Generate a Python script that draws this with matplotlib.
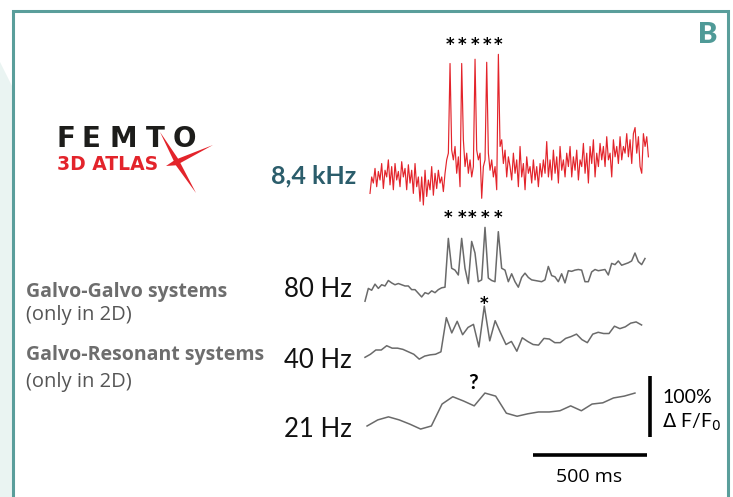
# Calcium imaging traces recorded at different frame rates (panel B)

import numpy as np
import matplotlib.pyplot as plt
from matplotlib.patches import Polygon, Rectangle
from matplotlib.transforms import blended_transform_factory

W, H = 733, 497

# dF/F traces in %
trace_8_4khz = [-22, 5, -5, 19, -11, 14, 0, 27, -14, 16,
                5, 33, -8, 22, -16, 27, 0, 14, -11, 30,
                5, 19, -16, 25, -5, 16, -22, 27, -11, 5,
                -35, 5, -41, 16, -27, 0, -16, 22, -25, 11,
                -14, 16, -5, 5, -19, 11, 33, 44, 191, 49,
                33, 55, 11, 38, -11, 191, 66, 22, 44, 11,
                33, 5, 22, 198, 49, 33, 44, -30, 22, 33,
                193, 44, 16, 33, 5, 22, -16, 206, 55, 66,
                27, 49, 5, 38, 22, 0, 44, 11, 33, -11,
                55, 5, 27, -16, 38, 11, 22, -5, 33, 0,
                22, -11, 27, 5, 33, 11, 63, 5, 33, 0,
                49, 11, 38, -5, 55, 16, 33, 5, 44, 22,
                55, 5, 38, 16, 49, 0, 33, 22, 60, 11,
                44, -5, 55, 27, 66, 5, 44, 22, 60, 33,
                55, 22, 71, 33, 44, 5, 66, 38, 55, 27,
                71, 33, 55, 44, 76, 38, 66, 27, 76, 86,
                44, 71, 22, 11, 76, 55, 71, 38]
trace_80hz = [-2, 19, 16, 26, 19, 25, 23, 32, 28, 25,
              27, 25, 23, 23, 17, 17, 11, 5, 12, 10,
              15, 12, 17, 20, 21, 101, 52, 49, 41, 101,
              52, 27, 96, 77, 30, 33, 119, 36, 32, 30,
              112, 52, 49, 30, 43, 30, 21, 37, 44, 37,
              33, 32, 31, 30, 33, 55, 40, 38, 30, 43,
              28, 48, 47, 49, 50, 49, 30, 30, 46, 50,
              48, 49, 50, 41, 60, 58, 64, 57, 59, 61,
              64, 77, 63, 58, 68]
trace_40hz = [-1, 4, 11, 11, 18, 14, 14, 12, 8, 4,
              -4, 1, 3, 4, 8, 64, 39, 58, 36, 48,
              53, 16, 83, 26, 59, 39, 20, 25, 9, 31,
              25, 20, 19, 30, 29, 23, 23, 30, 33, 37,
              28, 23, 37, 40, 38, 38, 50, 46, 49, 55,
              57, 52]
trace_21hz = [0, 10, 15, 10, 3, -5, 0, 36, 48, 41,
              33, 54, 49, 21, 16, 20, 23, 23, 25, 33,
              25, 36, 38, 46, 49, 54]

# first / last sample time of each trace (ms)
span_8_4khz = (22, 1243)
span_80hz = (0, 1228)
span_40hz = (0, 1213)
span_21hz = (9, 1184)

rate_labels = ['80 Hz', '40 Hz', '21 Hz']
scale_ms = 500
scale_pct = 100

# layout (pixels of the 733x497 canvas)
px_per_ms = 0.228
px_per_pct = 0.61
x0_px = 365
teal = '#5a9e9b'
red = '#e3242b'
grey = '#6a6a6a'

plt.rcParams['font.family'] = ['Lato', 'DejaVu Sans']
side_font = ['Open Sans', 'Lato', 'DejaVu Sans']

fig = plt.figure(figsize=(W / 100, H / 100), dpi=100)
fig.patch.set_facecolor('white')


def ftext(x, y, s, **kw):
    return fig.text(x / W, 1 - y / H, s, **kw)


def fxy(pts):
    return [(x / W, 1 - y / H) for x, y in pts]


def row(py):
    # pixel row -> % units of the trace axes
    return (H - py) / px_per_pct


# page background and panel frame
fig.add_artist(Polygon(fxy([(0, 62), (13, 88), (13, H), (0, H)]),
                       transform=fig.transFigure, fc='#eaf4f2', ec='none', zorder=-2))
fig.add_artist(Rectangle((13 / W, -0.1), (728 - 13) / W, 1 - 11 / H + 0.1,
                         transform=fig.transFigure, fill=False, ec=teal, lw=2.2, zorder=-1))
ftext(708, 43, 'B', fontsize=21, fontweight='heavy', color='#4f9a97', ha='center', va='baseline')

# FEMTO 3D ATLAS logo
for letter, lx in zip('FEMTO', [57, 81.5, 109, 145.5, 173]):
    ftext(lx, 147, letter, fontsize=20, fontweight='bold', color='#1d1d1b',
          family='DejaVu Sans', ha='left', va='baseline')
ftext(57, 170, '3D ATLAS', fontsize=13.5, fontweight='bold', color=red,
      family='DejaVu Sans', ha='left', va='baseline')
c = np.array([177, 162])
tips = np.array([[160, 132], [213, 145], [196, 193], [166, 166]])
pts = []
for i in range(4):
    pts.append(tips[i])
    a = tips[i] - c
    b = tips[(i + 1) % 4] - c
    mid = a / np.linalg.norm(a) + b / np.linalg.norm(b)
    pts.append(c + 3.5 * mid / np.linalg.norm(mid))
fig.add_artist(Polygon(fxy(pts), transform=fig.transFigure, fc=red, ec='none'))

# traces
ax = fig.add_axes([0, 0, 1, 1])
ax.set_xlim(-x0_px / px_per_ms, (W - x0_px) / px_per_ms)
ax.set_ylim(0, H / px_per_pct)
ax.axis('off')

t_red = np.linspace(*span_8_4khz, len(trace_8_4khz))
t80 = np.linspace(*span_80hz, len(trace_80hz))
t40 = np.linspace(*span_40hz, len(trace_40hz))
t21 = np.linspace(*span_21hz, len(trace_21hz))

ax.plot(t_red, np.array(trace_8_4khz) + row(180), color=red, lw=0.85)
ax.plot(t80, np.array(trace_80hz) + row(300), color=grey, lw=1.1)
ax.plot(t40, np.array(trace_40hz) + row(356.7), color=grey, lw=1.1)
ax.plot(t21, np.array(trace_21hz) + row(426), color=grey, lw=1.1)

# asterisks over detected spikes
tr = blended_transform_factory(ax.transData, fig.transFigure)
star_kw = dict(transform=tr, fontsize=12, fontweight='bold', family='DejaVu Sans',
               ha='center', va='baseline')
for t in t_red[np.array(trace_8_4khz) > 150]:
    ax.text(t, 1 - 50 / H, '*', **star_kw)
for t in t80[np.array(trace_80hz) > 90]:
    ax.text(t, 1 - 223 / H, '*', **star_kw)
ax.text(t40[np.argmax(trace_40hz)], 1 - 309 / H, '*', **star_kw)
ftext(473, 389, '?', fontsize=15, fontweight='bold', ha='center', va='baseline')

# scale bars
bar_x = (533 - x0_px) / px_per_ms
ax.plot([bar_x, bar_x + scale_ms], [row(455)] * 2, color='black', lw=2.6,
        solid_capstyle='butt')
vbar_x = (650 - x0_px) / px_per_ms
ax.plot([vbar_x] * 2, [row(437), row(437) + scale_pct], color='black', lw=2.6,
        solid_capstyle='butt')
ftext(589, 482, f'{scale_ms} ms', fontsize=14, family=side_font, ha='center', va='baseline')
ftext(662, 403, f'{scale_pct}%', fontsize=14, ha='left', va='baseline')
ftext(662, 428, r'$\Delta$ F/F$_0$', fontsize=14, ha='left', va='baseline')

# rate labels
ftext(356, 183, '8,4 kHz', fontsize=18, fontweight='bold', color='#2b5d6b',
      ha='right', va='baseline')
for lab, by in zip(rate_labels, [297, 368, 437]):
    ftext(352, by, lab, fontsize=18.5, color='#111111', ha='right', va='baseline')

# system labels
ftext(26, 297, 'Galvo-Galvo systems', fontsize=14, fontweight='bold', color='#6d6d6d',
      family=side_font, ha='left', va='baseline')
ftext(26, 320, '(only in 2D)', fontsize=14.5, color='#555555', family=side_font,
      ha='left', va='baseline')
ftext(26, 360, 'Galvo-Resonant systems', fontsize=14, fontweight='bold', color='#6d6d6d',
      family=side_font, ha='left', va='baseline')
ftext(26, 387, '(only in 2D)', fontsize=14.5, color='#555555', family=side_font,
      ha='left', va='baseline')

fig.savefig('out.png', dpi=100)
